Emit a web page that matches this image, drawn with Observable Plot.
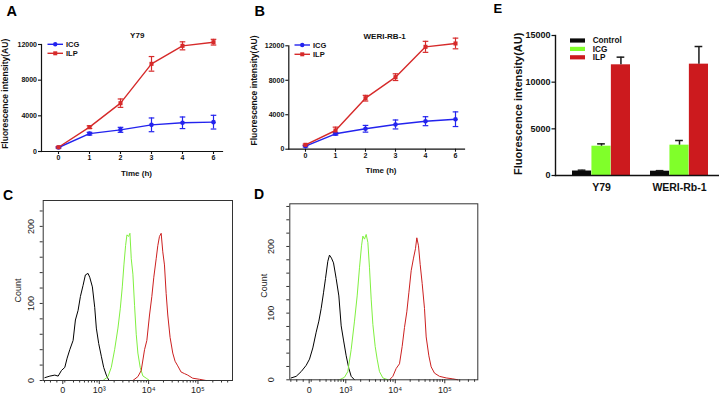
<!DOCTYPE html>
<html>
<head>
<meta charset="utf-8">
<script src="https://cdn.jsdelivr.net/npm/d3@7"></script>
<script src="https://cdn.jsdelivr.net/npm/@observablehq/plot@0.6"></script>
<style>
html,body{margin:0;padding:0;background:#fff;}
#fig{position:relative;width:719px;height:407px;overflow:hidden;background:#fff;}
#fig svg{position:absolute;}
</style>
</head>
<body>
<div id="fig"></div>
<script>
// ---------------- DATA ----------------
// Panels A / B : time course (h) vs fluorescence intensity (AU)
const times = [0, 1, 2, 3, 4, 6];
const lineSeries = ["ICG", "ILP"];
const lineYTicks = [0, 4000, 8000, 12000];

const y79ICG    = [450, 2000, 2430, 2990, 3220, 3290];
const y79ICGErr = [80, 150, 280, 770, 650, 770];
const y79ILP    = [480, 2730, 5420, 9830, 11850, 12260];
const y79ILPErr = [60, 150, 470, 820, 450, 320];

const weriICG    = [350, 1790, 2370, 2870, 3250, 3480];
const weriICGErr = [80, 150, 390, 520, 520, 850];
const weriILP    = [510, 2170, 5920, 8360, 11880, 12270];
const weriILPErr = [80, 390, 330, 390, 640, 620];

// Panel E : bars
const barCells  = ["Y79", "WERI-Rb-1"];
const barGroups = ["Control", "ICG", "ILP"];
const barControl    = [480, 460];
const barControlErr = [90, 60];
const barICG        = [3140, 3250];
const barICGErr     = [250, 500];
const barILP        = [11860, 11930];
const barILPErr     = [820, 1890];
const barYTicks = [0, 5000, 10000, 15000];

// Panels C / D : flow histograms, [axis position in decades, count]
const flowSeries = ["Control", "ICG", "ILP"];
const flowMajorTicks  = [2.26, 3, 4, 5];
const flowMajorLabels = ["0", "10\u00B3", "10\u2074", "10\u2075"];
const flowCountTicks  = [0, 100, 200];
const flowNegTicks    = [1.89, 2.01, 2.14];
const flowMinorValues = [200,300,400,500,600,700,800,900,
                         2000,3000,4000,5000,6000,7000,8000,9000,
                         20000,30000,40000,50000,60000,70000,80000,90000,
                         200000,300000,400000];

const histY79Control = [[1.897,3.7],[1.998,5.7],[2.099,7],[2.166,5.7],[2.233,13],[2.301,17],[2.348,29],[2.402,40],[2.469,52],[2.516,78.5],[2.570,91],[2.617,109],[2.671,123.5],[2.718,137],[2.772,139],[2.806,134],[2.860,121.5],[2.907,95],[2.940,68],[2.988,48],[3.041,31.5],[3.089,17],[3.142,7],[3.196,0]];
const histY79ICG = [[3.075,0],[3.176,5],[3.243,17],[3.311,40],[3.378,68],[3.425,93],[3.466,121.5],[3.499,150],[3.533,175],[3.560,189],[3.594,187],[3.621,191],[3.648,158],[3.681,138],[3.715,97],[3.749,60],[3.782,35.6],[3.829,17],[3.883,6],[3.951,3],[4.018,0]];
const histY79ILP = [[3.681,0],[3.782,5],[3.850,13],[3.917,40],[3.964,52],[4.018,85],[4.065,109],[4.105,134],[4.153,158],[4.186,175],[4.220,187],[4.254,191],[4.287,167],[4.321,150],[4.355,113],[4.388,85],[4.435,56],[4.489,35.6],[4.536,25],[4.590,19],[4.658,11],[4.725,9],[4.792,7],[4.893,3],[5.028,1.6],[5.163,0]];

const histWeriControl = [[1.897,2.8],[1.998,5.2],[2.099,12.3],[2.200,21.7],[2.267,31],[2.334,47.8],[2.402,71.4],[2.456,88],[2.503,107],[2.550,130.5],[2.590,151.8],[2.637,177.8],[2.671,187],[2.711,182.5],[2.752,175.4],[2.806,151.8],[2.860,125.8],[2.907,80.9],[2.954,59.6],[3.008,36],[3.062,17],[3.109,5.2],[3.176,0]];
const histWeriICG = [[2.873,0],[2.974,3.8],[3.041,12.3],[3.109,45.4],[3.176,88],[3.230,125.8],[3.277,168],[3.318,201],[3.345,215.6],[3.378,211],[3.412,218],[3.446,206],[3.479,168],[3.513,121],[3.547,83],[3.594,50],[3.634,31],[3.681,12.3],[3.749,2.8],[3.850,0]];
const histWeriILP = [[3.883,0],[3.951,5.2],[4.018,17],[4.085,24],[4.139,50],[4.186,78.5],[4.233,102],[4.274,130.5],[4.321,163.6],[4.368,182.5],[4.408,196.7],[4.435,213],[4.469,201],[4.503,173],[4.543,144.7],[4.590,107],[4.624,64.3],[4.678,36],[4.725,19.4],[4.792,10],[4.893,5.2],[5.028,2.8],[5.163,1.4],[5.264,0]];

// ---------------- STYLE ----------------
const FONT = '"Liberation Sans", Arial, Helvetica, sans-serif';
const lineColors = ["#2323ee", "#d62a2a"];
const barColors  = ["#0a0a0a", "#80ff2a", "#cc1a1e"];
const flowColors = ["#000000", "#80f040", "#cc2020"];

// horizontal error-bar cap drawn as a custom symbol (half width = r)
const capSymbol = {
  draw(context, size) {
    const w = Math.sqrt(size / Math.PI);
    context.moveTo(-w, 0);
    context.lineTo(w, 0);
  }
};

const fig = document.getElementById("fig");
function place(svg, left, top) {
  svg.style.left = left + "px";
  svg.style.top = top + "px";
  fig.appendChild(svg);
}

// ---------------- LINE PANELS ----------------
function linePanel(o) {
  const rows = [];
  times.forEach((t, i) => {
    rows.push({t, s: "ICG", v: o.icg[i], e: o.icgErr[i]});
    rows.push({t, s: "ILP", v: o.ilp[i], e: o.ilpErr[i]});
  });
  return Plot.plot({
    width: o.w, height: o.h,
    marginLeft: o.mL, marginRight: o.mR, marginTop: o.mT, marginBottom: o.mB,
    style: {fontFamily: FONT, fontSize: "7px", fontWeight: "bold", color: "#111", background: "transparent", maxWidth: "none", overflow: "visible"},
    x: {type: "point", domain: times, range: o.xRange, padding: 0},
    y: {domain: [0, 12000]},
    color: {domain: lineSeries, range: lineColors},
    symbol: {domain: lineSeries, range: ["circle", "square"]},
    marks: [
      Plot.frame({anchor: "left", stroke: "#111", strokeWidth: 1.2}),
      Plot.frame({anchor: "bottom", stroke: "#111", strokeWidth: 1.2}),
      Plot.axisX({tickSize: 3, tickPadding: 1, label: null, strokeWidth: 1.1}),
      Plot.axisY({ticks: lineYTicks, tickFormat: d => String(d), tickSize: 3, tickPadding: 1.5, label: null, strokeWidth: 1.1}),
      Plot.ruleX(rows, {x: "t", y1: d => d.v - d.e, y2: d => d.v + d.e, stroke: "s", strokeWidth: 1.2}),
      Plot.dot(rows, {x: "t", y: d => d.v + d.e, stroke: "s", strokeWidth: 1.2, symbol: capSymbol, r: 2.8}),
      Plot.dot(rows, {x: "t", y: d => d.v - d.e, stroke: "s", strokeWidth: 1.2, symbol: capSymbol, r: 2.8}),
      Plot.line(rows, {x: "t", y: "v", z: "s", stroke: "s", strokeWidth: 1.4}),
      Plot.dot(rows, {x: "t", y: "v", fill: "s", symbol: "s", r: 2.3}),
      Plot.text([o.title], {frameAnchor: "top", textAnchor: "middle", dx: o.titleDx, dy: o.titleDy, fontSize: 8}),
      Plot.text(["Time (h)"], {frameAnchor: "bottom", textAnchor: "middle", dx: o.tDx, dy: o.tDy, fontSize: 8}),
      Plot.text(["Fluorescence intensity(AU)"], {frameAnchor: "left", textAnchor: "middle", rotate: -90, dx: o.yDx, dy: o.yDy, fontSize: 8.5})
    ]
  });
}

place(linePanel({
  icg: y79ICG, icgErr: y79ICGErr, ilp: y79ILP, ilpErr: y79ILPErr, title: "Y79",
  w: 240, h: 190, mL: 41, mR: 18, mT: 44, mB: 39, xRange: [57, 214.3],
  titleDx: 5.2, titleDy: -12.3, tDx: 4.5, tDy: 24, yDx: -36, yDy: -4.2
}), 0, 0);

place(linePanel({
  icg: weriICG, icgErr: weriICGErr, ilp: weriILP, ilpErr: weriILPErr, title: "WERI-RB-1",
  w: 240, h: 190, mL: 48.3, mR: 16, mT: 45.3, mB: 41.3, xRange: [63.3, 216.7],
  titleDx: 8, titleDy: -12.6, tDx: 4.3, tDy: 24, yDx: -35, yDy: -7
}), 240, 0);

// ---------------- BAR PANEL E ----------------
(function () {
  const vals = [barControl, barICG, barILP], errs = [barControlErr, barICGErr, barILPErr];
  const rows = [];
  barCells.forEach((c, ci) => barGroups.forEach((g, gi) => rows.push({cell: c, g, v: vals[gi][ci], e: errs[gi][ci]})));
  const xRange = [91.7, 228.3], padInner = 0.2554;
  const band = (xRange[1] - xRange[0]) / (barCells.length - padInner) * (1 - padInner);
  const third = band / 3, capHalf = 4;
  const bars = barGroups.map((g, gi) => Plot.barY(rows.filter(r => r.g === g), {
    x: "cell", y: "v", fill: "g", insetLeft: gi * third, insetRight: (2 - gi) * third
  }));
  const errMarks = barGroups.flatMap((g, gi) => {
    const sub = rows.filter(r => r.g === g);
    return [
      Plot.ruleX(sub, {x: "cell", y1: "v", y2: d => d.v + d.e, dx: (gi - 1) * third, stroke: "#1a1a1a", strokeWidth: 1.5}),
      Plot.tickY(sub, {x: "cell", y: d => d.v + d.e, stroke: "#1a1a1a", strokeWidth: 1.5,
        insetLeft: gi * third + third / 2 - capHalf, insetRight: (2 - gi) * third + third / 2 - capHalf})
    ];
  });
  const svg = Plot.plot({
    width: 239, height: 200, marginLeft: 75, marginRight: 1, marginTop: 35, marginBottom: 25,
    style: {fontFamily: FONT, fontSize: "9px", fontWeight: "bold", color: "#111", background: "transparent", maxWidth: "none", overflow: "visible"},
    x: {type: "band", domain: barCells, range: xRange, paddingInner: padInner, paddingOuter: 0},
    y: {domain: [0, 15000]},
    color: {domain: barGroups, range: barColors},
    marks: [
      ...bars,
      ...errMarks,
      Plot.frame({anchor: "left", stroke: "#111", strokeWidth: 1.4}),
      Plot.frame({anchor: "bottom", stroke: "#111", strokeWidth: 1.4}),
      Plot.axisY({ticks: barYTicks, tickFormat: d => String(d), tickSize: 3.5, tickPadding: 1.5, label: null, strokeWidth: 1.2}),
      Plot.axisX({tickSize: 0, tickPadding: 8, label: null, fontSize: 10.5}),
      Plot.text(["Fluorescence intensity(AU)"], {frameAnchor: "left", textAnchor: "middle", rotate: -90, dx: -36.7, dy: -1.7, fontSize: 11})
    ]
  });
  place(svg, 480, 0);
})();

// ---------------- FLOW PANELS C / D ----------------
const flowMinorTicks = [...flowNegTicks, ...flowMinorValues.map(v => Math.log10(v))];
function flowPanel(o) {
  const rows = [];
  flowSeries.forEach((s, si) => o.curves[si].forEach(([d, c]) => rows.push({s, d, c})));
  const labelOf = new Map(flowMajorTicks.map((t, i) => [t, flowMajorLabels[i]]));
  const minor = flowMinorTicks.filter(t => t > o.xDomain[0] && t < o.xDomain[1]);
  return Plot.plot({
    width: 240, height: 217, marginLeft: o.mL, marginRight: o.mR, marginTop: o.mT, marginBottom: o.mB,
    style: {fontFamily: FONT, fontSize: "9px", color: "#222", background: "transparent", maxWidth: "none", overflow: "visible"},
    x: {domain: o.xDomain},
    y: {domain: o.yDomain},
    color: {domain: flowSeries, range: flowColors},
    marks: [
      Plot.axisX({ticks: minor, tickSize: 2.5, tickFormat: () => "", label: null, stroke: "#333"}),
      Plot.axisX({ticks: flowMajorTicks, tickSize: 4, tickPadding: 2.5, tickFormat: d => labelOf.get(d), label: null, stroke: "#333"}),
      Plot.axisY({ticks: d3.range(0, o.yDomain[1], 20), tickSize: 3, tickFormat: () => "", label: null, stroke: "#333"}),
      Plot.text(flowCountTicks, {y: d => d, text: d => String(d), frameAnchor: "left", textAnchor: "middle", rotate: -90, dx: o.tickDx}),
      Plot.text(["Count"], {frameAnchor: "left", textAnchor: "middle", rotate: -90, dx: o.countDx, dy: o.countDy}),
      Plot.line(rows, {x: "d", y: "c", z: "s", stroke: "s", strokeWidth: 1}),
      Plot.frame({stroke: "#333", strokeWidth: 1})
    ]
  });
}

place(flowPanel({
  curves: [histY79Control, histY79ICG, histY79ILP],
  mL: 42.7, mR: 8, mT: 10, mB: 27, xDomain: [1.863, 5.70], yDomain: [0, 233.6],
  tickDx: -12.4, countDx: -24.7, countDy: 0
}), 0, 190);

place(flowPanel({
  curves: [histWeriControl, histWeriICG, histWeriILP],
  mL: 42.3, mR: 9.7, mT: 13.3, mB: 27.7, xDomain: [1.869, 5.667], yDomain: [0, 264],
  tickDx: -19, countDx: -25.3, countDy: -6
}), 247, 190);

// ---------------- OVERLAY: panel letters + legends ----------------
const ov = d3.create("svg").attr("width", 719).attr("height", 407)
  .style("left", "0px").style("top", "0px")
  .attr("font-family", FONT).attr("font-weight", "bold");
[["A", 6.5, 16, 14.5], ["B", 254.5, 16, 14.5], ["E", 493.5, 13, 13], ["C", 3, 199.5, 14], ["D", 254, 198.5, 14]]
  .forEach(([t, x, y, s]) => ov.append("text").attr("x", x).attr("y", y).attr("font-size", s).text(t));

function lineLegend(x0, y0, dy) {
  lineSeries.forEach((s, i) => {
    const y = y0 + i * dy, c = lineColors[i], cx = x0 + 7.75;
    ov.append("line").attr("x1", x0).attr("x2", x0 + 15.5).attr("y1", y).attr("y2", y).attr("stroke", c).attr("stroke-width", 1.4);
    if (i === 0) ov.append("circle").attr("cx", cx).attr("cy", y).attr("r", 2.2).attr("fill", c);
    else ov.append("rect").attr("x", cx - 2).attr("y", y - 2).attr("width", 4).attr("height", 4).attr("fill", c);
    ov.append("text").attr("x", x0 + 18.5).attr("y", y + 2.6).attr("font-size", 7.5).attr("fill", "#111").text(s);
  });
}
lineLegend(47.5, 44.3, 9);
lineLegend(294.5, 45, 9.3);

barGroups.forEach((g, i) => {
  const y = 40.5 + i * 8.4;
  ov.append("rect").attr("x", 570).attr("y", y - 2.1).attr("width", 15).attr("height", 4.2).attr("fill", barColors[i]);
  ov.append("text").attr("x", 592.7).attr("y", y + 2.9).attr("font-size", 8.2).attr("fill", "#111").text(g);
});
fig.appendChild(ov.node());
</script>
</body>
</html>
